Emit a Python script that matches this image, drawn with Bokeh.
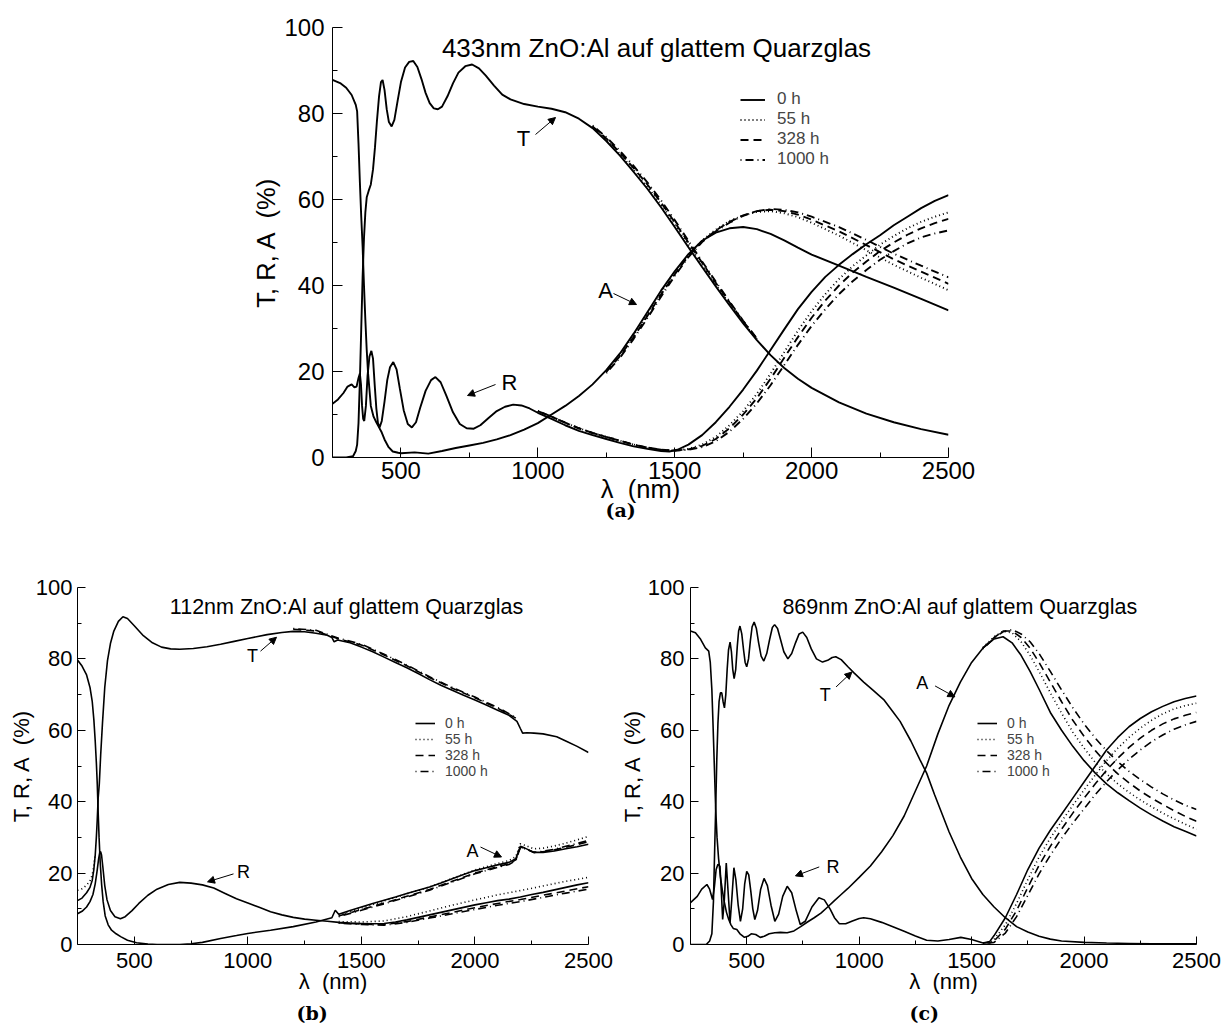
import math
from bokeh.plotting import figure
from bokeh.models import (Range1d, FixedTicker, Label, Arrow, NormalHead,
                          Legend, LegendItem, Title)
from bokeh.layouts import column, row
from bokeh.embed import file_html
from bokeh.resources import INLINE

# ---------------- common ----------------
X_TICKS = [500, 1000, 1500, 2000, 2500]
X_MINOR = [750, 1250, 1750, 2250]
Y_TICKS = [0, 20, 40, 60, 80, 100]
Y_MINOR = [10, 30, 50, 70, 90]
TIMES = ["0 h", "55 h", "328 h", "1000 h"]
DASHES = ["solid", "1 3", "8 5", "1 4 8 4"]

# ---------------- panel (a): 433 nm ----------------
A_T_WL = [250, 300, 325, 335, 340, 345, 350, 355, 360, 365, 370, 375, 382, 390, 398, 405, 412, 420,
          427, 433, 440, 448, 456, 466, 476, 488, 500, 515, 530, 545, 560, 575, 590, 605, 620, 635,
          650, 670, 690, 710, 735, 760, 785, 810, 840, 870, 900, 950, 1000, 1050, 1100, 1150, 1200,
          1250, 1300, 1350, 1400, 1450, 1500, 1550, 1600, 1650, 1700, 1750, 1800, 1850, 1900, 1950,
          2000, 2100, 2200, 2300, 2400, 2500]
A_T_0 = [0.0, 0.0, 0.3, 1.5, 3.0, 8.0, 18.0, 30.0, 42.0, 51.0, 57.0, 60.5, 62.0, 63.5, 67.0, 72.0, 78.0, 84.0,
         87.3, 87.8, 85.5, 81.0, 78.0, 77.0, 78.5, 83.0, 87.3, 90.7, 92.0, 92.2, 90.8, 88.0, 84.8, 82.4, 81.2, 81.0,
         81.6, 84.0, 87.0, 89.5, 91.0, 91.4, 90.5, 88.8, 86.5, 84.4, 83.3, 82.2, 81.6, 81.1, 80.3, 78.8, 76.6,
         73.6, 70.2, 66.4, 62.5, 58.2, 53.6, 48.9, 44.3, 39.8, 35.4, 31.2, 27.3, 23.8, 20.8, 18.3,
         16.2, 12.8, 10.2, 8.2, 6.6, 5.3]
A_T_AGED_WL = [1200, 1250, 1300, 1350, 1400, 1450, 1500, 1550, 1600, 1650, 1700, 1750, 1800]
A_T_55 = [76.8, 73.9, 70.6, 66.9, 63.0, 58.8, 54.2, 49.5, 44.8, 40.2, 35.8, 31.5, 27.5]
A_T_328 = [77.0, 74.2, 70.9, 67.3, 63.5, 59.3, 54.7, 50.0, 45.3, 40.6, 36.1, 31.7, 27.6]
A_T_1000 = [77.2, 74.5, 71.3, 67.8, 64.0, 59.8, 55.2, 50.4, 45.6, 40.9, 36.3, 31.8, 27.7]

A_A_WL = [250, 280, 300, 320, 335, 340, 345, 350, 355, 360, 365, 370, 375, 380, 390, 400, 410, 420, 430,
          440, 455, 470, 490, 500, 550, 600, 650, 700, 750, 800, 850, 900, 950, 1000, 1050, 1100, 1150,
          1200, 1250, 1300, 1350, 1400, 1450, 1500, 1550, 1600, 1650, 1700, 1750, 1800, 1850, 1900,
          1950, 2000, 2100, 2200, 2300, 2400, 2500]
A_A_0 = [87.8, 87.0, 86.0, 84.3, 82.0, 80.5, 73.0, 64.0, 56.0, 49.0, 40.0, 32.0, 25.0, 19.5, 12.0, 9.5, 8.2, 7.0, 5.8,
         4.2, 2.4, 1.4, 1.1, 1.0, 1.2, 0.9, 1.5, 2.2, 2.8, 3.4, 4.2, 5.2, 6.5, 8.0, 10.0, 12.0, 14.3,
         17.0, 20.3, 24.2, 28.8, 33.8, 38.8, 43.3, 47.3, 50.4, 52.3, 53.3, 53.6, 53.1, 52.0, 50.5,
         48.8, 47.2, 44.6, 42.0, 39.5, 36.9, 34.2]
A_A_AGED_WL = [1250, 1300, 1350, 1400, 1450, 1500, 1550, 1600, 1650, 1700, 1750, 1800, 1850, 1900, 1950,
               2000, 2100, 2200, 2300, 2400, 2500]
A_A_55 = [20.1, 23.9, 28.4, 33.3, 38.3, 42.9, 47.1, 50.5, 53.0, 55.0, 56.3, 57.1, 57.3, 56.8, 55.9,
          54.6, 51.6, 48.2, 44.8, 41.8, 38.9]
A_A_328 = [19.9, 23.6, 28.0, 32.9, 37.9, 42.6, 46.9, 50.3, 52.8, 54.8, 56.3, 57.3, 57.6, 57.3, 56.5,
           55.3, 52.6, 49.4, 46.1, 43.2, 40.4]
A_A_1000 = [19.6, 23.2, 27.6, 32.4, 37.4, 42.2, 46.6, 50.1, 52.6, 54.6, 56.2, 57.3, 57.8, 57.6, 57.0,
            56.0, 53.6, 50.6, 47.4, 44.6, 41.9]

A_R_WL = [250, 270, 290, 305, 320, 330, 338, 345, 350, 354, 358, 362, 366, 372, 378, 385, 392, 398, 404,
          410, 416, 422, 430, 440, 450, 460, 472, 484, 496, 510, 525, 540, 555, 570, 590, 610, 626, 645,
          665, 690, 715, 740, 766, 790, 820, 850, 880, 910, 940, 970, 1000, 1050, 1100, 1150, 1200, 1250,
          1300, 1350, 1400, 1450, 1480, 1510, 1550, 1600, 1650, 1700, 1750, 1800, 1850, 1900, 1950,
          2000, 2050, 2100, 2150, 2200, 2250, 2300, 2350, 2400, 2450, 2500]
A_R_0 = [12.5, 13.5, 15.0, 16.5, 17.0, 16.3, 16.5, 18.5, 19.5, 17.0, 12.0, 9.0, 8.5, 12.0, 19.0, 23.5, 24.8, 23.0, 17.0,
         11.5, 8.0, 7.0, 8.5, 13.0, 18.0, 21.0, 22.2, 20.5, 16.0, 11.0, 7.8, 7.0, 8.2, 11.5, 15.5, 18.0, 18.7, 17.5,
         14.5, 10.5, 7.8, 6.8, 6.7, 7.5, 9.2, 10.8, 11.8, 12.3, 12.1, 11.4, 10.4, 9.0, 7.5, 6.2, 5.2, 4.3,
         3.4, 2.6, 2.0, 1.5, 1.4, 1.8, 3.0, 5.2, 8.2, 11.8, 15.8, 20.2, 25.0, 29.8, 34.5,
         38.5, 42.0, 44.8, 47.3, 49.6, 51.7, 54.0, 56.0, 58.0, 59.7, 61.0]
A_R_AGED_WL = [1000, 1050, 1100, 1150, 1200, 1250, 1300, 1350, 1400, 1450, 1500, 1550, 1600, 1650, 1700,
               1750, 1800, 1850, 1900, 1950, 2000, 2050, 2100, 2150, 2200, 2250, 2300, 2350, 2400, 2450, 2500]
A_R_55 = [10.8, 9.5, 8.1, 6.8, 5.7, 4.8, 3.9, 3.0, 2.2, 1.7, 1.6, 2.0, 3.0, 4.8, 7.5,
          10.8, 14.8, 19.5, 24.5, 29.5, 34.0, 38.0, 41.5, 44.5, 47.0, 49.5, 51.5, 53.3, 54.8, 56.0, 57.0]
A_R_328 = [10.8, 9.5, 8.1, 6.8, 5.7, 4.8, 3.9, 3.0, 2.3, 1.8, 1.6, 1.9, 2.7, 4.3, 6.8,
           10.0, 13.8, 18.3, 23.2, 28.0, 32.5, 36.5, 40.0, 43.0, 45.6, 48.0, 50.0, 51.8, 53.3, 54.5, 55.5]
A_R_1000 = [10.8, 9.5, 8.1, 6.8, 5.7, 4.8, 3.9, 3.0, 2.3, 1.8, 1.6, 1.8, 2.4, 3.8, 6.0,
            9.0, 12.6, 16.8, 21.5, 26.2, 30.6, 34.5, 38.0, 41.0, 43.6, 46.0, 48.0, 49.8, 51.2, 52.1, 52.8]

# ---------------- panel (b): 112 nm ----------------
B_T_WL = [250, 270, 290, 305, 315, 322, 328, 333, 337, 341, 346, 352, 360, 370, 382, 395, 410, 430, 450, 470,
          500, 540, 580, 620, 660, 700, 760, 820, 880, 940, 1000, 1085, 1150, 1200, 1250, 1300, 1350, 1370,
          1380, 1395, 1450, 1500, 1550, 1600, 1650, 1700, 1750, 1800, 1850, 1900, 1950, 2000, 2050, 2100,
          2150, 2185, 2200, 2210, 2230, 2260, 2300, 2360, 2400, 2450, 2500]
B_T_0 = [12.3, 13.0, 14.5, 16.0, 18.0, 21.0, 25.0, 30.0, 35.0, 41.0, 45.0, 53.0, 62.0, 72.0, 79.5, 84.3, 87.8, 90.5,
         91.8, 91.3, 89.3, 86.5, 84.5, 83.3, 82.8, 82.7, 82.9, 83.4, 84.1, 84.9, 85.7, 86.8, 87.4, 87.7, 87.6,
         87.2, 86.6, 86.0, 84.8, 85.3, 84.5, 83.3, 82.0, 80.5, 79.0, 77.5, 75.9, 74.2, 72.6, 71.2, 69.8, 68.5,
         67.1, 65.6, 64.2, 62.5, 60.5, 59.2, 59.3, 59.2, 59.0, 58.2, 57.0, 55.5, 53.8]
B_T_UV_WL = [250, 270, 290, 305, 315, 322, 328]
B_T_UV_55 = [15.2, 15.6, 16.6, 17.8, 19.5, 22.0, 25.5]
B_T_NIR_WL = [1200, 1300, 1400, 1500, 1600, 1700, 1800, 1900, 2000, 2100, 2180]
B_T_NIR_328 = [88.3, 87.8, 85.6, 83.9, 81.1, 78.1, 74.8, 71.8, 69.1, 66.2, 63.4]
B_T_NIR_1000 = [88.5, 88.0, 85.8, 84.1, 81.3, 78.3, 75.0, 72.0, 69.3, 66.4, 63.6]

B_A_WL = [250, 270, 290, 305, 315, 322, 328, 333, 337, 341, 345, 350, 356, 363, 372, 385, 400, 420, 440, 470,
          510, 560, 600, 700, 750, 800, 880, 950, 1000, 1100, 1200, 1300, 1370, 1385, 1400, 1450, 1500, 1550,
          1600, 1650, 1700, 1750, 1800, 1850, 1900, 1950, 2000, 2050, 2100, 2150, 2180, 2200, 2220, 2260,
          2300, 2350, 2400, 2450, 2500]
B_A_0 = [79.7, 78.0, 75.5, 72.0, 68.0, 63.0, 57.0, 51.0, 45.0, 37.0, 30.0, 23.0, 17.0, 12.0, 8.0, 5.5, 4.0, 3.0,
         2.2, 1.2, 0.5, 0.1, 0.0, 0.0, 0.2, 0.6, 1.7, 2.5, 3.1, 4.0, 5.0, 6.3, 7.5, 9.6, 8.5, 9.5, 10.5, 11.5,
         12.4, 13.3, 14.3, 15.2, 16.1, 17.2, 18.4, 19.6, 20.7, 21.5, 22.3, 23.0, 24.0, 27.5, 27.0, 25.8,
         25.8, 26.2, 26.8, 27.4, 28.1]
B_A_AGED_WL = [1400, 1500, 1600, 1700, 1800, 1900, 2000, 2100, 2150, 2180, 2200, 2220, 2260, 2300, 2350,
               2400, 2450, 2500]
B_A_55 = [8.3, 10.2, 12.2, 14.2, 16.1, 18.5, 20.9, 22.7, 23.5, 24.6, 28.2, 27.8, 26.8, 27.0, 27.6, 28.4, 29.3, 30.3]
B_A_328 = [8.0, 9.8, 11.6, 13.5, 15.4, 17.7, 20.0, 21.8, 22.6, 23.7, 27.3, 26.9, 25.8, 26.0, 26.5, 27.2, 28.0, 28.8]
B_A_1000 = [7.8, 9.6, 11.4, 13.3, 15.2, 17.5, 19.8, 21.6, 22.4, 23.5, 27.2, 26.8, 25.8, 26.1, 26.7, 27.5, 28.3, 29.2]

B_R_WL = [250, 270, 290, 305, 318, 328, 336, 343, 348, 352, 356, 362, 370, 380, 395, 415, 439, 460, 490, 520,
          560, 600, 650, 700, 750, 800, 850, 900, 950, 1000, 1050, 1100, 1150, 1200, 1250, 1300, 1350, 1400,
          1450, 1500, 1550, 1600, 1650, 1700, 1750, 1800, 1850, 1900, 1950, 2000, 2050, 2100, 2150, 2200,
          2250, 2300, 2350, 2400, 2450, 2500]
B_R_0 = [8.6, 9.3, 10.5, 12.0, 14.0, 17.0, 20.5, 24.0, 25.8, 26.0, 25.0, 21.5, 16.5, 12.5, 9.5, 7.8, 7.2, 7.8,
         9.5, 11.5, 13.8, 15.5, 16.8, 17.4, 17.2, 16.7, 15.8, 14.3, 12.8, 11.6, 10.4, 9.2, 8.3, 7.6, 7.1, 6.8,
         6.5, 6.2, 6.0, 5.9, 5.8, 5.9, 6.3, 6.9, 7.6, 8.3, 9.0, 9.7, 10.4, 11.1, 11.7, 12.3, 12.7, 13.3, 14.0,
         14.6, 15.3, 16.0, 16.7, 17.3]
B_R_AGED_WL = [1400, 1500, 1600, 1700, 1800, 1900, 2000, 2100, 2200, 2300, 2400, 2500]
B_R_55 = [6.4, 6.3, 6.6, 7.8, 9.4, 11.0, 12.5, 13.9, 15.1, 16.4, 17.7, 18.8]
B_R_328 = [6.1, 5.7, 5.6, 6.4, 7.7, 9.0, 10.3, 11.5, 12.6, 13.8, 15.0, 16.2]
B_R_1000 = [6.0, 5.6, 5.4, 6.2, 7.4, 8.6, 9.8, 11.0, 12.0, 13.2, 14.4, 15.5]

# ---------------- panel (c): 869 nm ----------------
C_T_WL = [250, 320, 335, 345, 352, 358, 362, 367, 372, 377, 383, 389, 395, 401, 407, 413, 419, 426, 432, 438,
          444, 451, 458, 464, 470, 478, 486, 493, 500, 508, 516, 524, 533, 543, 553, 564, 576, 589, 602, 614,
          624, 637, 650, 665, 683, 700, 717, 733, 749, 767, 787, 810, 837, 860, 880, 896, 920, 950, 977,
          1020, 1060, 1109, 1150, 1182, 1230, 1270, 1300, 1335, 1400, 1450, 1500, 1550, 1600, 1650, 1700,
          1750, 1800, 1850, 1900, 2000, 2100, 2200, 2300, 2500]
C_T_0 = [0.0, 0.0, 1.0, 3.0, 12.0, 28.0, 38.0, 52.0, 62.0, 68.0, 70.5, 70.5, 68.0, 66.3, 70.0, 77.0, 82.5, 84.7,
         82.0, 77.0, 74.5, 77.0, 83.5, 87.8, 89.2, 87.0, 82.5, 79.0, 77.8, 80.0, 85.0, 89.0, 90.3, 88.5, 84.5,
         80.8, 79.4, 81.5, 85.5, 88.8, 89.6, 88.5, 85.5, 82.0, 80.0, 81.5, 84.5, 87.0, 87.5, 86.0, 82.8, 80.0,
         79.1, 79.6, 80.4, 80.6, 79.8, 77.8, 76.1, 73.5, 71.3, 68.6, 65.2, 62.5, 57.0, 51.8, 48.0, 42.0, 31.5,
         24.5, 18.5, 14.0, 10.5, 7.5, 5.0, 3.5, 2.3, 1.5, 1.0, 0.6, 0.4, 0.3, 0.2, 0.2]

C_A_WL = [250, 272, 295, 316, 331, 338, 345, 350, 355, 362, 368, 375, 383, 392, 400, 410, 420, 430, 440, 456,
          470, 490, 505, 520, 540, 560, 578, 600, 625, 650, 680, 710, 740, 770, 800, 830, 860, 890, 920, 950,
          1000, 1050, 1100, 1150, 1200, 1250, 1300, 1350, 1400, 1450, 1500, 1550, 1600, 1640, 1680, 1720,
          1760, 1800, 1850, 1900, 1950, 2000, 2050, 2100, 2150, 2200, 2250, 2300, 2350, 2400, 2450, 2500]
C_A_0 = [87.8, 87.3, 85.5, 83.1, 82.2, 79.0, 71.4, 62.0, 52.0, 38.0, 30.0, 24.0, 19.0, 15.0, 12.0, 9.0, 7.0, 5.5,
         4.5, 4.2, 3.0, 2.0, 2.3, 3.0, 2.8, 2.0, 2.3, 3.0, 3.3, 3.4, 3.3, 3.8, 5.0, 6.3, 7.5, 8.8, 10.5, 12.3,
         14.0, 15.7, 18.8, 22.0, 26.0, 30.5, 36.0, 43.0, 50.0, 59.0, 67.0, 73.5, 79.0, 83.0, 85.6, 86.2, 84.5,
         81.0, 76.5, 71.5, 65.0, 60.0, 55.5, 51.5, 48.0, 45.0, 42.5, 40.3, 38.2, 36.3, 34.6, 33.0, 31.7, 30.4]
C_A_AGED_WL = [1550, 1600, 1640, 1680, 1720, 1760, 1800, 1850, 1900, 1950, 2000, 2050, 2100, 2150, 2200,
               2250, 2300, 2350, 2400, 2450, 2500]
C_A_55 = [83.2, 86.2, 87.8, 87.3, 84.8, 81.0, 76.5, 70.5, 64.8, 59.5, 55.0, 51.0, 47.8, 45.0, 42.6,
          40.5, 38.6, 36.8, 35.2, 33.7, 32.3]
C_A_328 = [83.0, 86.0, 87.8, 87.8, 86.0, 83.0, 79.0, 73.5, 68.0, 62.8, 58.3, 54.3, 50.8, 47.8, 45.3,
           43.0, 41.0, 39.2, 37.5, 35.9, 34.5]
C_A_1000 = [82.8, 85.8, 87.6, 88.2, 87.0, 84.8, 81.5, 76.5, 71.3, 66.3, 61.8, 57.8, 54.3, 51.2, 48.5,
            46.2, 44.1, 42.2, 40.5, 39.0, 37.8]

C_R_WL = [250, 280, 300, 323, 335, 348, 356, 364, 372, 381, 387, 393, 400, 409, 417, 426, 434, 443, 452, 462,
          472, 482, 491, 500, 509, 518, 527, 536, 548, 562, 577, 592, 608, 625, 642, 660, 680, 700, 720, 738,
          760, 790, 821, 845, 871, 890, 912, 940, 970, 1000, 1020, 1050, 1100, 1150, 1200, 1250, 1300, 1350,
          1400, 1452, 1500, 1551, 1580, 1600, 1650, 1700, 1750, 1800, 1850, 1900, 1950, 2000, 2050, 2100,
          2150, 2200, 2250, 2300, 2350, 2400, 2450, 2500]
C_R_0 = [11.7, 13.5, 15.5, 16.8, 15.5, 12.6, 16.0, 21.0, 22.5, 21.9, 15.0, 7.0, 12.0, 22.8, 15.0, 6.1, 13.0, 21.5,
         18.0, 11.0, 6.5, 10.0, 17.0, 20.5, 19.5, 15.0, 10.0, 7.0, 9.5, 15.5, 18.5, 16.5, 11.0, 6.5, 8.5, 13.5,
         16.3, 14.5, 9.5, 5.6, 6.5, 10.5, 13.1, 12.5, 9.9, 7.5, 5.8, 5.8, 6.6, 7.3, 7.5, 7.2, 6.2, 5.0, 3.7,
         2.4, 1.2, 1.0, 1.4, 2.0, 1.4, 0.4, 0.8, 2.5, 7.5, 14.0, 21.0, 27.0, 32.0, 36.5, 41.0, 45.5, 50.0,
         54.5, 58.0, 61.0, 63.3, 65.2, 66.7, 68.0, 68.9, 69.6]
C_R_AGED_WL = [1551, 1580, 1600, 1650, 1700, 1750, 1800, 1850, 1900, 1950, 2000, 2050, 2100, 2150, 2200,
               2250, 2300, 2350, 2400, 2450, 2500]
C_R_55 = [0.4, 0.6, 1.5, 5.5, 11.5, 18.2, 24.5, 29.8, 34.5, 39.0, 43.3, 47.5, 51.5, 55.0, 58.0,
          60.6, 62.8, 64.6, 66.0, 66.9, 67.6]
C_R_328 = [0.4, 0.5, 1.0, 4.3, 9.5, 16.0, 22.2, 27.5, 32.3, 36.8, 41.0, 45.0, 48.8, 52.2, 55.2,
           57.8, 60.0, 61.8, 63.2, 64.2, 65.0]
C_R_1000 = [0.4, 0.4, 0.6, 3.2, 7.8, 13.8, 19.8, 25.0, 29.7, 34.0, 38.0, 42.0, 45.6, 48.9, 51.9,
            54.5, 56.8, 58.7, 60.3, 61.5, 62.5]

SANS = "Liberation Sans"
SERIF = "DejaVu Serif"
X_LABEL = "\u03bb\u00a0 (nm)"
Y_LABEL = "T, R, A\u00a0 (%)"


def make_fig(cx, cy, width, height, fl, ft, fw, fh, tick_font, maj, mnr, xstand, ystand,
             lab_font, xlab_stand, ylab_stand):
    p = figure(width=width, height=height, x_range=Range1d(250, 2500), y_range=Range1d(0, 100),
               output_backend="svg", toolbar_location=None,
               min_border_left=fl - cx, min_border_top=ft - cy,
               min_border_right=width - (fl - cx) - fw,
               min_border_bottom=height - (ft - cy) - fh)
    p.outline_line_color = None
    p.xgrid.visible = False
    p.ygrid.visible = False
    p.background_fill_color = "white"
    p.border_fill_color = "white"
    p.xaxis.ticker = FixedTicker(ticks=X_TICKS, minor_ticks=X_MINOR)
    p.yaxis.ticker = FixedTicker(ticks=Y_TICKS, minor_ticks=Y_MINOR)
    p.xaxis.axis_label = X_LABEL
    p.yaxis.axis_label = Y_LABEL
    for ax, st, ls in ((p.xaxis, xstand, xlab_stand), (p.yaxis, ystand, ylab_stand)):
        ax.axis_line_color = "black"
        ax.axis_line_width = 1
        ax.major_tick_in = maj
        ax.major_tick_out = 0
        ax.minor_tick_in = mnr
        ax.minor_tick_out = 0
        ax.major_tick_line_color = "black"
        ax.minor_tick_line_color = "black"
        ax.major_label_text_font = SANS
        ax.major_label_text_font_size = tick_font
        ax.major_label_text_color = "black"
        ax.major_label_standoff = st
        ax.axis_label_text_font = SANS
        ax.axis_label_text_font_size = lab_font
        ax.axis_label_text_font_style = "normal"
        ax.axis_label_text_color = "black"
        ax.axis_label_standoff = ls

    def dx(px):
        return 250 + (px - fl) * 2250.0 / fw

    def dy(py):
        return (ft + fh - py) * 100.0 / fh
    return p, dx, dy


def caption(p, text, offset, standoff):
    p.add_layout(Title(text=text, align="left", offset=offset, standoff=standoff,
                       text_font=SERIF, text_font_style="bold", text_font_size="19px",
                       text_color="black"), "below")


def txt(p, x, y, s, size):
    p.add_layout(Label(x=x, y=y, text=s, text_font=SANS, text_font_size=size,
                       text_align="center", text_baseline="middle", text_color="black"))


def arr(p, x0, y0, x1, y1):
    p.add_layout(Arrow(end=NormalHead(size=7, fill_color="black", line_color="black", line_width=1),
                       x_start=x0, y_start=y0, x_end=x1, y_end=y1,
                       line_color="black", line_width=1))


def ln(p, wl, vals, k, lw):
    return p.line(wl, vals, line_color="black", line_width=lw, line_dash=DASHES[k])


def add_legend(p, rends, vx, vy, size, gw, gh, standoff):
    items = [LegendItem(label=TIMES[i], renderers=[rends[i]]) for i in range(4)]
    lg = Legend(items=items, location=(vx, vy), label_text_font=SANS,
                label_text_font_size=size, glyph_width=gw, glyph_height=gh, label_height=gh,
                label_standoff=standoff, spacing=0, padding=0, margin=0,
                border_line_color=None, background_fill_alpha=0)
    p.add_layout(lg)


# ================= panel (a) =================
pA, ax, ay = make_fig(0, 0, 1221, 545, 332, 27, 616, 430, "24px", 10, 5, 4, 8, "25.5px", -7, 1)
lw = 1.9
legA = [None] * 4
legA[1] = ln(pA, A_A_AGED_WL, A_A_55, 1, lw)
legA[2] = ln(pA, A_A_AGED_WL, A_A_328, 2, lw)
legA[3] = ln(pA, A_A_AGED_WL, A_A_1000, 3, lw)
ln(pA, A_R_AGED_WL, A_R_55, 1, lw)
ln(pA, A_R_AGED_WL, A_R_328, 2, lw)
ln(pA, A_R_AGED_WL, A_R_1000, 3, lw)
ln(pA, A_T_AGED_WL, A_T_55, 1, lw)
ln(pA, A_T_AGED_WL, A_T_328, 2, lw)
ln(pA, A_T_AGED_WL, A_T_1000, 3, lw)
legA[0] = ln(pA, A_A_WL, A_A_0, 0, lw)
ln(pA, A_R_WL, A_R_0, 0, lw)
ln(pA, A_T_WL, A_T_0, 0, lw)
add_legend(pA, legA, 408, 288, "17px", 25, 19, 12)

txt(pA, ax(656), ay(47), "433nm ZnO:Al auf glattem Quarzglas", "26px")
txt(pA, ax(523), ay(138), "T", "22px")
arr(pA, ax(535), ay(134), ax(555), ay(117))
txt(pA, ax(605), ay(290), "A", "22px")
arr(pA, ax(613), ay(293), ax(636), ay(304))
txt(pA, ax(509), ay(382), "R", "22px")
arr(pA, ax(495), ay(384), ax(467), ay(395))
caption(pA, "(a)", 620 - 332 - 15, -17)

# ================= panel (b) =================
pB, bx, by = make_fig(0, 545, 616, 482, 77, 587, 511, 359, "22px", 8, 4, 8, 5, "22px", -2, -1)
lw = 1.6
legB = [None] * 4
legB[1] = ln(pB, B_A_AGED_WL, B_A_55, 1, lw)
legB[2] = ln(pB, B_A_AGED_WL, B_A_328, 2, lw)
legB[3] = ln(pB, B_A_AGED_WL, B_A_1000, 3, lw)
ln(pB, B_R_AGED_WL, B_R_55, 1, lw)
ln(pB, B_R_AGED_WL, B_R_328, 2, lw)
ln(pB, B_R_AGED_WL, B_R_1000, 3, lw)
ln(pB, B_T_UV_WL, B_T_UV_55, 1, lw)
ln(pB, B_T_NIR_WL, B_T_NIR_328, 2, lw)
ln(pB, B_T_NIR_WL, B_T_NIR_1000, 3, lw)
legB[0] = ln(pB, B_A_WL, B_A_0, 0, lw)
ln(pB, B_R_WL, B_R_0, 0, lw)
ln(pB, B_T_WL, B_T_0, 0, lw)
add_legend(pB, legB, 338, 165, "14px", 20, 16, 10)

txt(pB, bx(346), by(607), "112nm ZnO:Al auf glattem Quarzglas", "21.5px")
txt(pB, bx(252), by(656), "T", "18px")
arr(pB, bx(260), by(651), bx(276), by(637))
txt(pB, bx(243), by(873), "R", "18px")
arr(pB, bx(233), by(875), bx(207), by(883))
txt(pB, bx(472), by(852), "A", "18px")
arr(pB, bx(480), by(848), bx(501), by(858))
caption(pB, "(b)", 311 - 77 - 15, 7)

# ================= panel (c) =================
pC, cx_, cy_ = make_fig(616, 545, 605, 482, 685, 587, 511, 359, "22px", 8, 4, 8, 6, "22px", -2, 0)
legC = [None] * 4
legC[1] = ln(pC, C_A_AGED_WL, C_A_55, 1, lw)
legC[2] = ln(pC, C_A_AGED_WL, C_A_328, 2, lw)
legC[3] = ln(pC, C_A_AGED_WL, C_A_1000, 3, lw)
ln(pC, C_R_AGED_WL, C_R_55, 1, lw)
ln(pC, C_R_AGED_WL, C_R_328, 2, lw)
ln(pC, C_R_AGED_WL, C_R_1000, 3, lw)
legC[0] = ln(pC, C_A_WL, C_A_0, 0, lw)
ln(pC, C_R_WL, C_R_0, 0, lw)
ln(pC, C_T_WL, C_T_0, 0, lw)
add_legend(pC, legC, 287, 165, "14px", 20, 16, 10)

txt(pC, cx_(957), cy_(607), "869nm ZnO:Al auf glattem Quarzglas", "21.5px")
txt(pC, cx_(821), cy_(695), "T", "18px")
arr(pC, cx_(832), cy_(687), cx_(848), cy_(672))
txt(pC, cx_(919), cy_(683), "A", "18px")
arr(pC, cx_(932), cy_(686), cx_(952), cy_(697))
txt(pC, cx_(829), cy_(868), "R", "18px")
arr(pC, cx_(815), cy_(868), cx_(791), cy_(877))
caption(pC, "(c)", 919 - 685 - 15, 7)

layout = column(pA, row(pB, pC))
open("out.html", "w").write(file_html(layout, INLINE))
